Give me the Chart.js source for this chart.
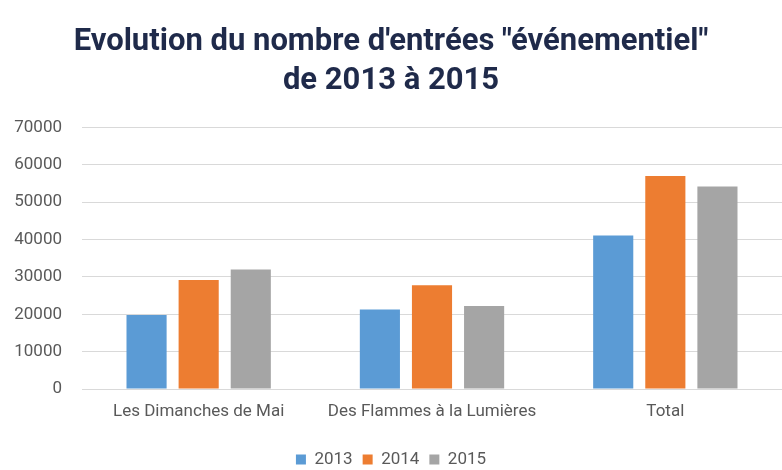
<!DOCTYPE html>
<html>
<head>
<meta charset="utf-8">
<script src="https://cdn.jsdelivr.net/npm/chart.js@4"></script>
<style>
  body { margin: 0; background: #fff; }
  #wrap { width: 782px; height: 470px; }
</style>
</head>
<body>
<div id="wrap"><canvas id="myChart" width="782" height="470"></canvas></div>
<script>
// data
var categories = ['Les Dimanches de Mai', 'Des Flammes à la Lumières', 'Total'];
var years = ['2013', '2014', '2015'];
var values2013 = [19800, 21300, 41100];
var values2014 = [29200, 27800, 57000];
var values2015 = [32000, 22200, 54200];
var yTicks = [0, 10000, 20000, 30000, 40000, 50000, 60000, 70000];

var colors = ['#5b9bd5', '#ed7d31', '#a5a5a5'];
var series = [values2013, values2014, values2015];
var labelFont = 'Roboto, "Liberation Sans", sans-serif';

var ctx = document.getElementById('myChart').getContext('2d');
var chart = new Chart(ctx, {
    type: 'bar',
    data: {
        labels: categories,
        datasets: years.map(function (y, i) {
            return {
                label: y,
                data: series[i],
                backgroundColor: colors[i],
                categoryPercentage: 0.67,
                barPercentage: 0.77
            };
        })
    },
    options: {
        responsive: false,
        animation: false,
        layout: { padding: { left: 0, right: 0, top: 16, bottom: -8 } },
        plugins: {
            title: {
                display: true,
                text: ['Evolution du nombre d\'entrées "événementiel"', 'de 2013 à 2015'],
                color: '#1f2a4a',
                font: { family: labelFont, size: 31, weight: 'bold', lineHeight: 1.25 },
                padding: { top: 7, bottom: 27 }
            },
            legend: {
                position: 'bottom',
                labels: {
                    color: '#595959',
                    boxWidth: 10,
                    boxHeight: 10,
                    padding: 10,
                    font: { family: labelFont, size: 17 }
                }
            },
            tooltip: { enabled: false }
        },
        scales: {
            x: {
                afterFit: function (axis) { axis.height = 52; },
                grid: { display: false },
                border: { display: false },
                ticks: {
                    color: '#595959',
                    padding: 5,
                    maxRotation: 0,
                    font: { family: labelFont, size: 17 }
                }
            },
            y: {
                min: 0,
                max: 70000,
                afterBuildTicks: function (axis) {
                    axis.ticks = yTicks.map(function (v) { return { value: v }; });
                },
                afterFit: function (axis) { axis.width = 82; },
                grid: { color: '#d9d9d9', tickLength: 0, lineWidth: 1 },
                border: { display: false },
                ticks: {
                    color: '#595959',
                    padding: 20,
                    callback: function (v) { return String(v); },
                    font: { family: labelFont, size: 17 }
                }
            }
        }
    }
});
</script>
</body>
</html>
